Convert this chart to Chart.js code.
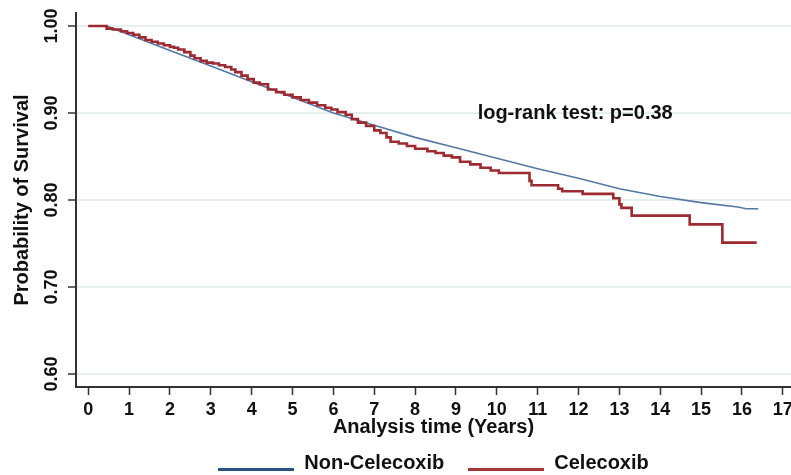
<!DOCTYPE html>
<html>
<head>
<meta charset="utf-8">
<script src="https://cdn.jsdelivr.net/npm/chart.js"></script>
<style>
  html, body { margin:0; padding:0; background:#fff; }
  #wrap { width:791px; height:475px; }
</style>
</head>
<body>
<div id="wrap"><canvas id="km"></canvas></div>
<script>
// Kaplan-Meier estimates
const nonCelTime = [0, 0.45, 1, 2, 3, 4, 5, 6, 7, 8, 9, 10, 11, 12, 13, 14, 15, 15.9, 16.1, 16.4];
const nonCelSurv = [1.000, 1.000, 0.990, 0.972, 0.954, 0.936, 0.918, 0.900, 0.886, 0.872, 0.860, 0.848, 0.836, 0.825, 0.813, 0.804, 0.797, 0.792, 0.790, 0.790];

const celTime = [0, 0.45, 0.6, 0.8, 0.95, 1.1, 1.25, 1.4, 1.55, 1.7, 1.85, 2.0, 2.1, 2.2, 2.35, 2.5, 2.6, 2.75, 2.9, 3.05,
  3.2, 3.35, 3.5, 3.6, 3.75, 3.9, 4.05, 4.2, 4.4, 4.6, 4.8, 5.0, 5.2, 5.4, 5.6, 5.8, 5.95, 6.1, 6.3, 6.45,
  6.6, 6.8, 7.0, 7.15, 7.3, 7.4, 7.6, 7.8, 8.0, 8.3, 8.5, 8.7, 8.9, 9.1, 9.35, 9.6, 9.85, 10.05, 10.8, 10.85,
  11.5, 11.6, 12.1, 12.85, 13.0, 13.05, 13.3, 14.72, 15.52, 16.36];
const celSurv = [1.000, 0.997, 0.996, 0.994, 0.992, 0.990, 0.987, 0.984, 0.982, 0.980, 0.978, 0.976, 0.975, 0.973, 0.970, 0.966, 0.963, 0.960, 0.958, 0.957,
  0.955, 0.953, 0.950, 0.947, 0.943, 0.939, 0.935, 0.933, 0.927, 0.924, 0.921, 0.918, 0.915, 0.912, 0.909, 0.906, 0.904, 0.901, 0.898, 0.893,
  0.889, 0.885, 0.880, 0.877, 0.872, 0.867, 0.865, 0.862, 0.859, 0.856, 0.854, 0.851, 0.849, 0.844, 0.841, 0.837, 0.834, 0.831, 0.822, 0.817,
  0.813, 0.810, 0.807, 0.802, 0.795, 0.791, 0.782, 0.772, 0.751, 0.751];

const xTicks = [0,1,2,3,4,5,6,7,8,9,10,11,12,13,14,15,16,17];
const yTicks = [0.60, 0.70, 0.80, 0.90, 1.00];
const seriesNames = ['Non-Celecoxib', 'Celecoxib'];
const annotText = 'log-rank test: p=0.38';
const annotAt = [9.53, 0.90];

const FONT = "'Liberation Sans', Arial, Helvetica, sans-serif";
const INK = '#111';
const AXIS = '#333';

const toPts = (t, s) => t.map((v, i) => ({x: v, y: s[i]}));

// legend marker: a line sitting low, near the text baseline
function legendLine(color){
  const c = document.createElement('canvas');
  c.width = 76; c.height = 22;
  const g = c.getContext('2d');
  g.fillStyle = color;
  g.fillRect(0, 16, 76, 3);
  return c;
}

const pValueLabel = {
  id: 'pValueLabel',
  afterDatasetsDraw(chart){
    const {ctx, scales:{x, y}} = chart;
    ctx.save();
    ctx.font = 'bold 20px ' + FONT;
    ctx.fillStyle = INK;
    ctx.textAlign = 'left';
    ctx.textBaseline = 'middle';
    ctx.fillText(annotText, x.getPixelForValue(annotAt[0]), y.getPixelForValue(annotAt[1]));
    ctx.restore();
  }
};

new Chart(document.getElementById('km'), {
  type: 'line',
  data: {
    datasets: [
      {label: seriesNames[0], data: toPts(nonCelTime, nonCelSurv), borderColor:'#5479a3', borderWidth:1.6,
       pointRadius:0, tension:0, order:1, pointStyle: legendLine('#2b5581')},
      {label: seriesNames[1], data: toPts(celTime, celSurv), borderColor:'#9c2a30', borderWidth:2.6,
       pointRadius:0, stepped:true, order:0, pointStyle: legendLine('#a3373c')}
    ]
  },
  options: {
    responsive: true,
    maintainAspectRatio: false,
    animation: false,
    layout: {padding: {top:13, right:0, left:0, bottom:-8}},
    plugins: {
      tooltip: {enabled:false},
      legend: {
        position: 'bottom',
        fullSize: false,
        labels: {
          usePointStyle: true,
          pointStyleWidth: 76,
          padding: 24,
          color: INK,
          font: {family: FONT, size: 20, weight: 'bold'},
          sort: (a, b) => a.datasetIndex - b.datasetIndex
        }
      }
    },
    scales: {
      x: {
        type: 'linear',
        min: -0.3, max: 17.2,
        afterBuildTicks: s => { s.ticks = xTicks.map(v => ({value: v})); },
        afterFit: s => { s.height = 42; s.paddingLeft = 0; s.paddingRight = 0; },
        ticks: {color: INK, padding: 4, autoSkip: false, maxRotation: 0,
                font: {family: FONT, size: 18, weight: 'bold'}},
        grid: {drawOnChartArea: false, drawTicks: true, tickLength: 8, tickColor: AXIS, tickWidth: 1.5},
        border: {color: AXIS, width: 2},
        title: {display: true, text: 'Analysis time (Years)', color: INK, padding: {top:0, bottom:-10},
                font: {family: FONT, size: 20, weight: 'bold'}}
      },
      y: {
        min: 0.585, max: 1.015,
        afterBuildTicks: s => { s.ticks = yTicks.map(v => ({value: v})); },
        afterFit: s => { s.width = 76; s.paddingTop = 0; s.paddingBottom = 0; },
        ticks: {color: INK, padding: -2, minRotation: 90, maxRotation: 90, crossAlign: 'center',
                callback: v => Number(v).toFixed(2),
                font: {family: FONT, size: 18, weight: 'bold'}},
        grid: {color: '#e6eff0', lineWidth: 2, drawTicks: true, tickLength: 8, tickColor: AXIS, tickWidth: 1.5},
        border: {color: AXIS, width: 2},
        title: {display: true, text: 'Probability of Survival', color: INK, padding: {top:10, bottom:0},
                font: {family: FONT, size: 20, weight: 'bold'}}
      }
    }
  },
  plugins: [pValueLabel]
});
</script>
</body>
</html>
